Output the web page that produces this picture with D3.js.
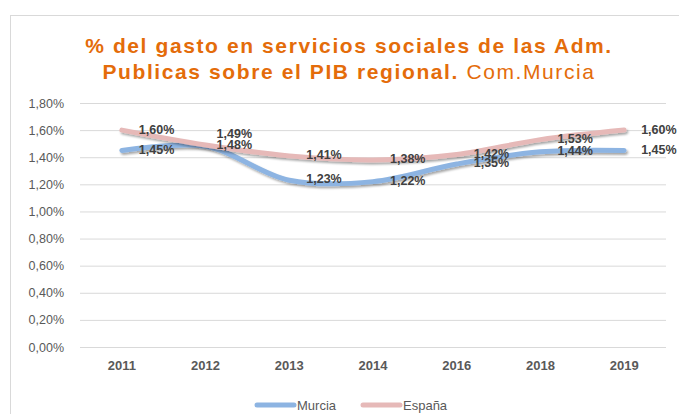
<!DOCTYPE html>
<html><head><meta charset="utf-8">
<script src="https://cdn.jsdelivr.net/npm/d3@7"></script>
<style>
body{margin:0;background:#fff;}
svg{display:block;}
</style></head>
<body>
<svg id="chart" width="679" height="414"></svg>
<script>
const years = ["2011","2012","2013","2014","2016","2018","2019"];
const murcia = [1.45, 1.48, 1.23, 1.22, 1.35, 1.44, 1.45];
const espana = [1.60, 1.49, 1.41, 1.38, 1.42, 1.53, 1.60];
const yTicks = [0,0.2,0.4,0.6,0.8,1.0,1.2,1.4,1.6,1.8];
const seriesNames = ["Murcia","España"];
const seriesColors = ["#8db4e2","#e6b9b8"];

const svg = d3.select("#chart");
const W = 679, H = 414;
const fmt = v => d3.format(".2f")(v).replace(".", ",") + "%";

// frame
svg.append("rect").attr("x",10.5).attr("y",15.5).attr("width",W).attr("height",H)
  .attr("fill","#fff").attr("stroke","#d9d9d9");

const defs = svg.append("defs");
const f = defs.append("filter").attr("id","shadow").attr("x","-10%").attr("y","-50%").attr("width","120%").attr("height","200%");
f.append("feDropShadow").attr("dx",1.5).attr("dy",2).attr("stdDeviation",1.2).attr("flood-color","#000").attr("flood-opacity",0.35);

// title
const title = svg.append("text").attr("text-anchor","middle")
  .style("font-family","'Liberation Sans', Arial, sans-serif").style("font-size","21px")
  .style("letter-spacing","1.6px").attr("fill","#e46c0a");
title.append("tspan").attr("x",349).attr("y",53).style("font-weight","bold")
  .text("% del gasto en servicios sociales de las Adm.");
const t2 = title.append("tspan").attr("x",349).attr("y",79);
t2.append("tspan").style("font-weight","bold").text("Publicas sobre el PIB regional.");
t2.append("tspan").style("font-weight","normal").text(" Com.Murcia");

const x = d3.scaleBand().domain(years).range([80,666]);
const y = d3.scaleLinear().domain([0,1.8]).range([347,103]);

// grid
const yAxis = svg.append("g").attr("transform","translate(80,0)")
  .call(d3.axisLeft(y).tickValues(yTicks).tickSize(-586).tickFormat(fmt).tickPadding(16));
yAxis.select(".domain").remove();
yAxis.selectAll("line").attr("stroke","#d9d9d9");
yAxis.selectAll("text").attr("fill","#595959").style("font-family","'Liberation Sans', Arial, sans-serif").style("font-size","12.5px");

const xAxis = svg.append("g").attr("transform","translate(0,347)")
  .call(d3.axisBottom(x).tickSize(0).tickPadding(14));
xAxis.select(".domain").remove();
xAxis.selectAll("text").attr("fill","#595959").style("font-family","'Liberation Sans', Arial, sans-serif")
  .style("font-size","13px").style("font-weight","bold");

const line = d3.line().x((d,i)=>x(years[i])+x.bandwidth()/2).y(d=>y(d)).curve(d3.curveCatmullRom.alpha(0.5));
const data = [murcia, espana];
data.forEach((s,k)=>{
  svg.append("path").datum(s).attr("d",line).attr("fill","none")
    .attr("stroke",seriesColors[k]).attr("stroke-width",5).attr("stroke-linecap","round")
    .attr("filter","url(#shadow)");
});

// labels
data.forEach((s,k)=>{
  svg.append("g").selectAll("text").data(s).join("text")
    .attr("x",(d,i)=>x(years[i])+x.bandwidth()/2 + (i===1?11:17))
    .attr("y",(d,i)=>y(d) + 4 + (k===1 && i===1 ? -10 : 0) + (i===0||i===6?0:-1))
    .attr("fill","#404040").style("font-family","'Liberation Sans', Arial, sans-serif")
    .style("font-size","12.5px").style("font-weight","bold")
    .text(d=>fmt(d));
});

// legend
const leg = [[257,297],[363,403]];
seriesNames.forEach((n,k)=>{
  svg.append("line").attr("x1",leg[k][0]).attr("x2",leg[k][1]-3).attr("y1",405).attr("y2",405)
    .attr("stroke",seriesColors[k]).attr("stroke-width",5).attr("stroke-linecap","round");
  svg.append("text").attr("x",leg[k][1]).attr("y",410).attr("fill","#595959")
    .style("font-family","'Liberation Sans', Arial, sans-serif").style("font-size","13px").text(n);
});
</script>
</body></html>
